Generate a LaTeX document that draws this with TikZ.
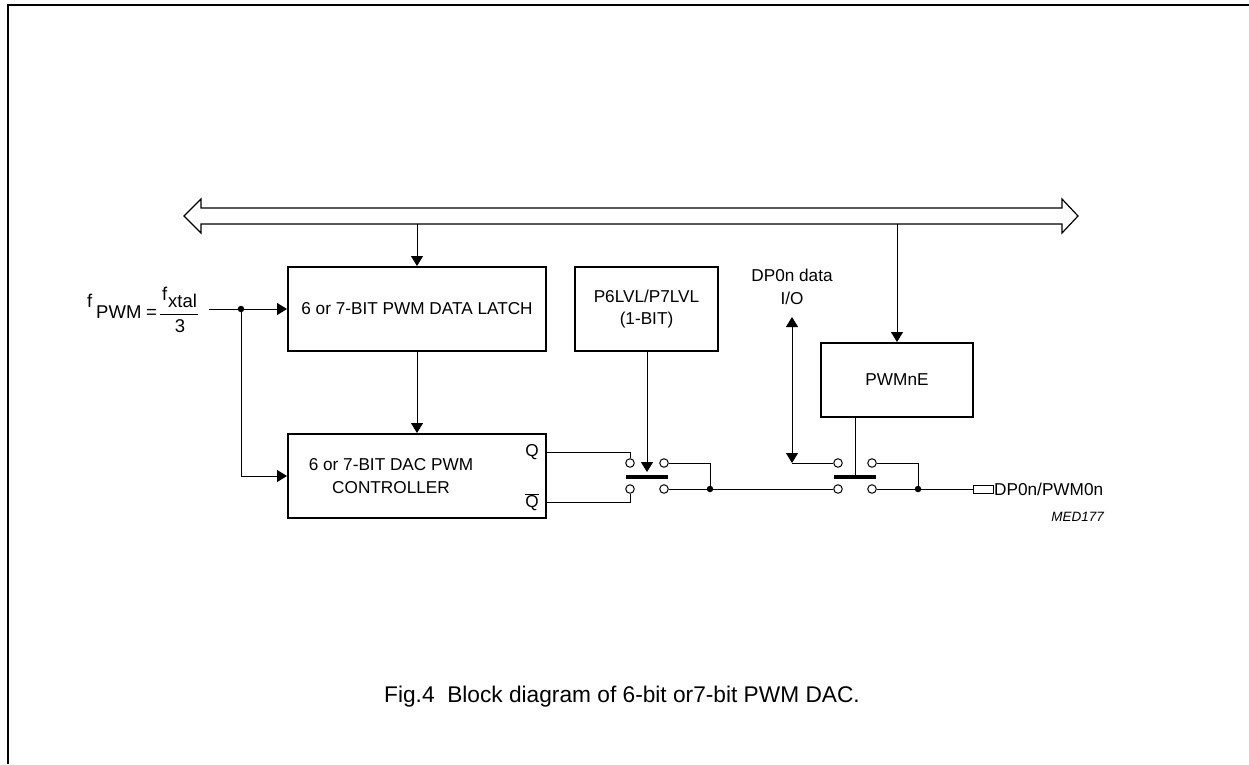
\documentclass[tikz,border=0pt]{standalone}
\usepackage{fontspec}
\setmainfont{Liberation Sans}
\usetikzlibrary{arrows.meta}
\begin{document}
\begin{tikzpicture}[x=1pt,y=-1pt,
  box/.style={draw, line width=2pt, inner sep=0pt},
  wire/.style={line width=1pt},
  arr/.style={wire,-{Triangle[length=10pt,width=12pt]}},
  darr/.style={wire,{Triangle[length=10pt,width=12pt]}-{Triangle[length=10pt,width=12pt]}},
  contact/.style={circle, draw, line width=1pt, minimum size=8.5pt, inner sep=0pt, fill=white},
  jdot/.style={circle, fill, minimum size=6.5pt, inner sep=0pt},
  swbar/.style={fill, minimum width=42pt, minimum height=3.5pt, inner sep=0pt},
  txt/.style={font=\fontsize{17.2}{22.5}\selectfont, inner sep=0pt},
  ftxt/.style={font=\fontsize{18.5}{22}\selectfont, inner sep=0pt},
  captxt/.style={font=\fontsize{22.7}{26}\selectfont, inner sep=0pt},
  small/.style={font=\fontsize{13.5}{15}\selectfont\itshape, inner sep=0pt}]
\useasboundingbox (0,0) rectangle (1249,764);
% frame
\draw[line width=2pt] (8,764) -- (8,5) -- (1249,5);
% bus
\draw[line width=1.2pt, fill=white] (184,216) -- (201,199) -- (201,208) -- (1062,208) -- (1062,199)
  -- (1078,216) -- (1062,233) -- (1062,224) -- (201,224) -- (201,233) -- cycle;
\coordinate (b1) at (417,224);
\coordinate (b2) at (897,224);
% boxes
\node[box, txt, minimum width=258pt, minimum height=84pt] (latch) at (417,309) {6 or 7-BIT PWM DATA LATCH};
\node[box, txt, minimum width=143pt, minimum height=84pt, align=center] (lvl) at (646.5,309) {P6LVL/P7LVL\\(1-BIT)};
\node[box, minimum width=258pt, minimum height=84pt] (ctrl) at (417,476) {};
\node[txt, align=center] (ctext) at (391,476) {6 or 7-BIT DAC PWM\\CONTROLLER};
\node[txt] (Q) at (532,452) {Q};
\node[txt] (Qb) at (532,502) {$\overline{\mbox{Q}}$};
\node[box, txt, minimum width=152pt, minimum height=74pt] (pwme) at (897,380) {PWMnE};
% fPWM label
\node[ftxt, anchor=base west] (f1) at (87,307) {f};
\node[ftxt, anchor=base west] (f2) at (96,318) {PWM};
\node[ftxt, anchor=base west] (f3) at (146,318) {=};
\node[ftxt, anchor=base west] (f4) at (162,300) {f};
\node[ftxt, anchor=base west] (f5) at (168,307) {xtal};
\node[ftxt, anchor=base] (f6) at (180,332) {3};
\draw[wire] (160,314) -- (198,314);
% data I/O label
\node[txt, align=center] (io) at (792,287) {DP0n data\\I/O};
% switches
\node[contact] (s1a) at (630,463) {};
\node[contact] (s1b) at (664,463) {};
\node[contact] (s1c) at (630,489) {};
\node[contact] (s1d) at (664,489) {};
\node[swbar] (bar1) at (647,477) {};
\node[contact] (s2a) at (838,463) {};
\node[contact] (s2b) at (872,463) {};
\node[contact] (s2c) at (838,489) {};
\node[contact] (s2d) at (872,489) {};
\node[swbar] (bar2) at (855,477) {};
\node[jdot] (j0) at (241,309) {};
\node[jdot] (j1) at (710,489) {};
\node[jdot] (j2) at (918,489) {};
\node[draw, line width=1pt, minimum width=20pt, minimum height=8pt, inner sep=0pt] (pin) at (983,489) {};
\node[txt, anchor=west] (out) at (994,489) {DP0n/PWM0n};
\node[small, anchor=east] (med) at (1104,517) {MED177};
\node[captxt] (cap) at (622,697) {Fig.4\ \ Block diagram of 6-bit or7-bit PWM DAC.};
% connectors
\coordinate (fin) at (209,309);
\draw[arr] (b1) -- (latch.north);
\draw[arr] (b2) -- (pwme.north);
\draw[arr] (latch.south) -- (ctrl.north);
\draw[arr] (fin) -- (latch.west);
\draw[arr] (j0.center) |- (ctrl.west);
\draw[arr, shorten >=3pt] (lvl.south -| bar1) -- (bar1.north);
\draw[wire] (ctrl.east |- Q) -| (s1a.north);
\draw[wire] (ctrl.east |- Qb) -| (s1c.south);
\draw[wire] (s1b.east) -| (j1.center);
\draw[wire] (s1d.east) -- (s2c.west);
\draw[wire] (pwme.south -| bar2) -- (bar2.north);
\coordinate (iotop) at (792,317);
\coordinate (iocorner) at (792,463);
\draw[darr] (iotop) -- (iocorner);
\draw[wire] (iocorner) -- (s2a.west);
\draw[wire] (s2b.east) -| (j2.center);
\draw[wire] (s2d.east) -- (pin.west);
\end{tikzpicture}
\end{document}
